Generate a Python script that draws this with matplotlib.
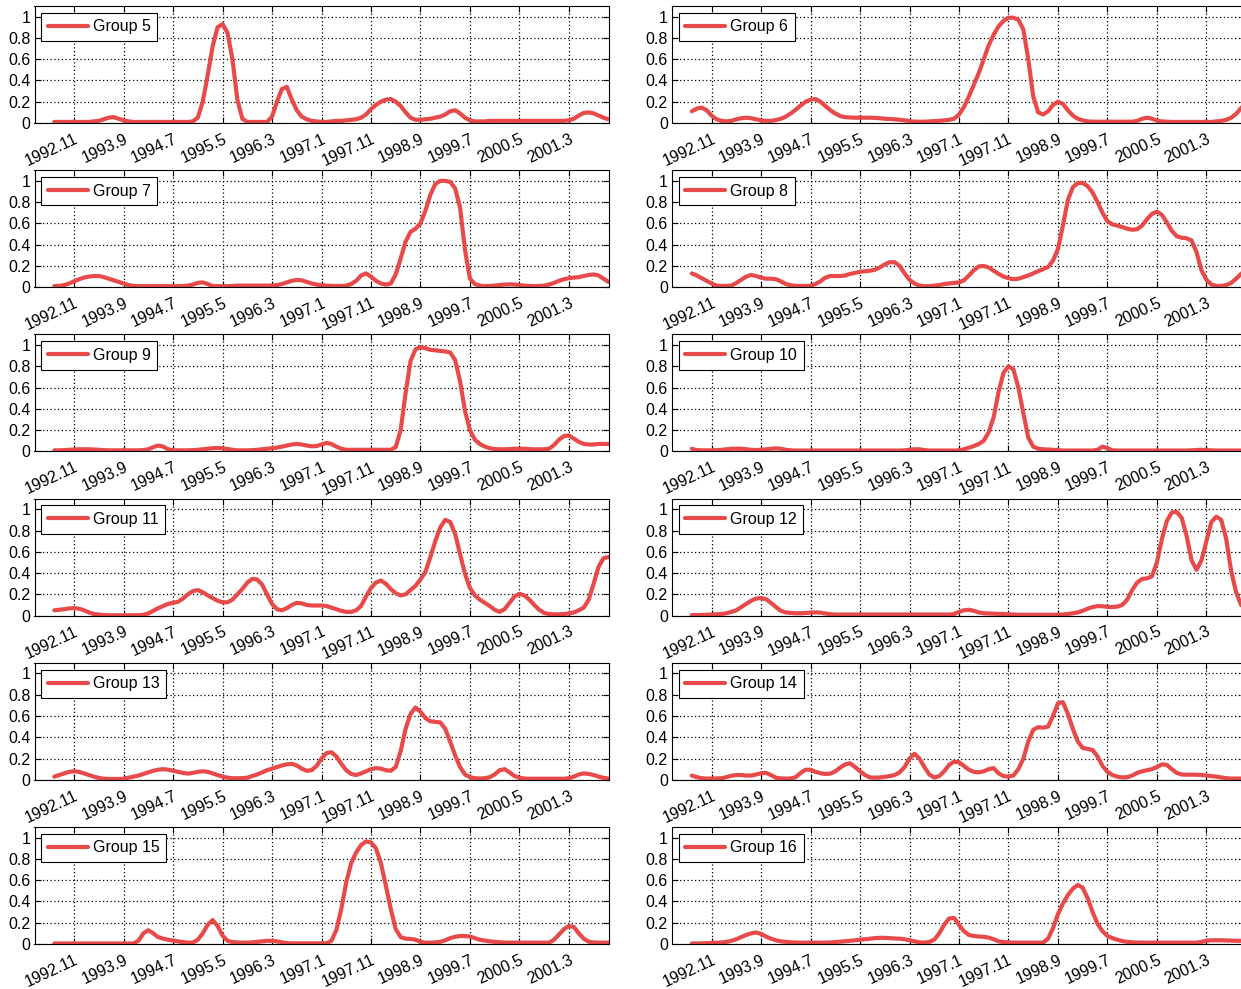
import numpy as np
import matplotlib
matplotlib.use('Agg')
import matplotlib.pyplot as plt

plt.rcParams['font.family'] = ['Liberation Sans', 'DejaVu Sans']

# months counted from 1992.11 (first sample is 1992.7, last 2001.11)
months = np.arange(-4, 109)
tick_months = [0, 10, 20, 30, 40, 50, 60, 70, 80, 90, 100]
tick_labels = ['1992.11', '1993.9', '1994.7', '1995.5', '1996.3', '1997.1',
               '1997.11', '1998.9', '1999.7', '2000.5', '2001.3']

group5 = [0.01, 0.01, 0.01, 0.01, 0.01, 0.01, 0.01, 0.01, 0.015, 0.02,
          0.035, 0.05, 0.055, 0.04, 0.025, 0.015, 0.01, 0.01, 0.01, 0.01,
          0.01, 0.01, 0.01, 0.01, 0.01, 0.01, 0.01, 0.01, 0.015, 0.05,
          0.2, 0.45, 0.72, 0.9, 0.93, 0.85, 0.6, 0.22, 0.04, 0.01,
          0.01, 0.01, 0.01, 0.01, 0.06, 0.2, 0.32, 0.34, 0.22, 0.12,
          0.06, 0.035, 0.02, 0.015, 0.01, 0.01, 0.015, 0.02, 0.02, 0.025,
          0.03, 0.035, 0.05, 0.08, 0.13, 0.17, 0.2, 0.22, 0.225, 0.2,
          0.16, 0.1, 0.05, 0.03, 0.03, 0.035, 0.04, 0.05, 0.06, 0.08,
          0.11, 0.12, 0.09, 0.05, 0.025, 0.015, 0.015, 0.015, 0.02, 0.02,
          0.02, 0.02, 0.02, 0.02, 0.02, 0.02, 0.02, 0.02, 0.02, 0.02,
          0.02, 0.02, 0.02, 0.02, 0.025, 0.04, 0.07, 0.095, 0.1, 0.09,
          0.07, 0.05, 0.035]

group6 = [0.11, 0.135, 0.145, 0.12, 0.07, 0.035, 0.02, 0.015, 0.02, 0.035,
          0.045, 0.05, 0.045, 0.035, 0.025, 0.02, 0.02, 0.028, 0.04, 0.06,
          0.09, 0.125, 0.165, 0.2, 0.22, 0.225, 0.2, 0.16, 0.12, 0.09,
          0.065, 0.055, 0.052, 0.05, 0.05, 0.05, 0.05, 0.048, 0.045, 0.04,
          0.038, 0.035, 0.03, 0.025, 0.018, 0.013, 0.012, 0.012, 0.015, 0.018,
          0.02, 0.025, 0.03, 0.04, 0.08, 0.15, 0.25, 0.36, 0.47, 0.6,
          0.73, 0.83, 0.91, 0.96, 0.99, 0.99, 0.97, 0.88, 0.6, 0.25,
          0.1, 0.08, 0.11, 0.17, 0.2, 0.18, 0.12, 0.07, 0.04, 0.025,
          0.015, 0.012, 0.012, 0.012, 0.012, 0.012, 0.012, 0.012, 0.012, 0.012,
          0.02, 0.04, 0.05, 0.04, 0.022, 0.015, 0.012, 0.01, 0.01, 0.01,
          0.01, 0.01, 0.01, 0.01, 0.01, 0.01, 0.015, 0.02, 0.03, 0.05,
          0.085, 0.14, 0.19]

group7 = [0.01, 0.012, 0.02, 0.035, 0.055, 0.075, 0.09, 0.1, 0.105, 0.105,
          0.095, 0.08, 0.065, 0.05, 0.035, 0.02, 0.012, 0.01, 0.01, 0.01,
          0.01, 0.01, 0.01, 0.01, 0.01, 0.01, 0.01, 0.015, 0.025, 0.04,
          0.045, 0.03, 0.012, 0.01, 0.01, 0.01, 0.012, 0.015, 0.015, 0.015,
          0.015, 0.015, 0.015, 0.015, 0.015, 0.02, 0.03, 0.045, 0.06, 0.068,
          0.065, 0.05, 0.035, 0.025, 0.02, 0.015, 0.012, 0.012, 0.012, 0.015,
          0.03, 0.06, 0.11, 0.13, 0.1, 0.06, 0.035, 0.025, 0.035, 0.12,
          0.27, 0.43, 0.52, 0.55, 0.6, 0.72, 0.87, 0.97, 1.0, 1.0,
          0.99, 0.93, 0.75, 0.35, 0.08, 0.03, 0.015, 0.01, 0.012, 0.015,
          0.02, 0.025, 0.027, 0.025, 0.02, 0.015, 0.012, 0.01, 0.012, 0.015,
          0.025, 0.04, 0.06, 0.075, 0.085, 0.09, 0.095, 0.105, 0.115, 0.12,
          0.11, 0.08, 0.05]

group8 = [0.13, 0.11, 0.085, 0.06, 0.035, 0.015, 0.012, 0.012, 0.015, 0.04,
          0.07, 0.1, 0.115, 0.105, 0.09, 0.08, 0.08, 0.075, 0.055, 0.03,
          0.018, 0.013, 0.012, 0.012, 0.013, 0.03, 0.055, 0.09, 0.105, 0.105,
          0.105, 0.11, 0.125, 0.135, 0.145, 0.15, 0.155, 0.165, 0.185, 0.215,
          0.235, 0.235, 0.2, 0.13, 0.07, 0.035, 0.015, 0.01, 0.01, 0.015,
          0.02, 0.03, 0.035, 0.04, 0.045, 0.065, 0.11, 0.16, 0.195, 0.2,
          0.185, 0.155, 0.125, 0.1, 0.085, 0.075, 0.08, 0.095, 0.11, 0.13,
          0.15, 0.17, 0.19, 0.25, 0.36, 0.58, 0.82, 0.94, 0.98, 0.98,
          0.95, 0.89, 0.8, 0.7, 0.62, 0.59, 0.58, 0.565, 0.55, 0.54,
          0.545, 0.58, 0.64, 0.69, 0.71, 0.68, 0.61, 0.53, 0.48, 0.465,
          0.46, 0.44, 0.33, 0.16, 0.07, 0.025, 0.012, 0.012, 0.02, 0.04,
          0.08, 0.125, 0.16]

group9 = [0.01, 0.01, 0.012, 0.015, 0.018, 0.02, 0.02, 0.02, 0.018, 0.015,
          0.012, 0.01, 0.01, 0.01, 0.01, 0.01, 0.01, 0.01, 0.012, 0.02,
          0.04, 0.055, 0.045, 0.02, 0.01, 0.01, 0.01, 0.01, 0.012, 0.015,
          0.02, 0.025, 0.03, 0.032, 0.03, 0.022, 0.015, 0.01, 0.01, 0.01,
          0.012, 0.015, 0.02, 0.025, 0.03, 0.035, 0.045, 0.055, 0.065, 0.07,
          0.065, 0.055, 0.048, 0.05, 0.065, 0.08, 0.07, 0.045, 0.025, 0.015,
          0.015, 0.015, 0.015, 0.015, 0.015, 0.015, 0.015, 0.015, 0.015, 0.04,
          0.2, 0.55, 0.85, 0.96, 0.98, 0.97, 0.955, 0.95, 0.945, 0.94,
          0.93, 0.86, 0.66, 0.38, 0.2, 0.11, 0.07, 0.045, 0.03, 0.022,
          0.02, 0.02, 0.022, 0.025, 0.025, 0.025, 0.022, 0.02, 0.02, 0.02,
          0.025, 0.06, 0.11, 0.145, 0.15, 0.12, 0.09, 0.07, 0.065, 0.065,
          0.07, 0.07, 0.07]

group10 = [0.025, 0.012, 0.01, 0.01, 0.01, 0.012, 0.015, 0.02, 0.025, 0.025,
           0.025, 0.02, 0.015, 0.013, 0.015, 0.02, 0.025, 0.028, 0.025, 0.015,
           0.01, 0.008, 0.008, 0.008, 0.008, 0.008, 0.008, 0.008, 0.008, 0.008,
           0.008, 0.008, 0.008, 0.008, 0.008, 0.008, 0.008, 0.008, 0.008, 0.008,
           0.008, 0.008, 0.008, 0.01, 0.015, 0.02, 0.02, 0.012, 0.008, 0.008,
           0.008, 0.008, 0.008, 0.008, 0.01, 0.02, 0.035, 0.05, 0.07, 0.1,
           0.18, 0.32, 0.56, 0.74, 0.8, 0.77, 0.6, 0.36, 0.13, 0.045,
           0.025, 0.02, 0.018, 0.015, 0.012, 0.008, 0.008, 0.008, 0.008, 0.008,
           0.008, 0.008, 0.015, 0.045, 0.03, 0.01, 0.008, 0.008, 0.008, 0.008,
           0.008, 0.008, 0.008, 0.008, 0.008, 0.008, 0.008, 0.008, 0.008, 0.008,
           0.008, 0.01, 0.013, 0.015, 0.012, 0.01, 0.008, 0.008, 0.008, 0.008,
           0.008, 0.008, 0.008]

group11 = [0.05, 0.055, 0.06, 0.068, 0.07, 0.065, 0.05, 0.03, 0.015, 0.01,
           0.005, 0.003, 0.003, 0.003, 0.003, 0.003, 0.003, 0.003, 0.008, 0.02,
           0.045, 0.07, 0.09, 0.11, 0.12, 0.13, 0.16, 0.2, 0.23, 0.24,
           0.22, 0.19, 0.165, 0.14, 0.125, 0.125, 0.15, 0.2, 0.25, 0.31,
           0.345, 0.34, 0.29, 0.2, 0.11, 0.06, 0.05, 0.07, 0.1, 0.12,
           0.115, 0.1, 0.095, 0.095, 0.095, 0.09, 0.075, 0.06, 0.045, 0.035,
           0.035, 0.05, 0.09, 0.18, 0.26, 0.31, 0.33, 0.3, 0.25, 0.21,
           0.19, 0.2, 0.24, 0.28, 0.34, 0.41, 0.55, 0.7, 0.83, 0.9,
           0.88, 0.77, 0.58, 0.39, 0.26, 0.19, 0.15, 0.12, 0.09, 0.055,
           0.035, 0.06, 0.12, 0.18, 0.205, 0.19, 0.15, 0.1, 0.055, 0.025,
           0.015, 0.012, 0.012, 0.015, 0.02, 0.03, 0.05, 0.075, 0.15, 0.3,
           0.46, 0.54, 0.55]

group12 = [0.005, 0.005, 0.006, 0.008, 0.01, 0.012, 0.015, 0.022, 0.035, 0.05,
           0.08, 0.11, 0.14, 0.16, 0.165, 0.155, 0.12, 0.08, 0.045, 0.03,
           0.025, 0.022, 0.022, 0.025, 0.028, 0.03, 0.028, 0.02, 0.013, 0.01,
           0.01, 0.01, 0.01, 0.01, 0.01, 0.01, 0.01, 0.01, 0.01, 0.01,
           0.01, 0.01, 0.01, 0.01, 0.01, 0.01, 0.01, 0.01, 0.01, 0.01,
           0.01, 0.01, 0.01, 0.015, 0.035, 0.05, 0.055, 0.045, 0.03, 0.022,
           0.02, 0.018, 0.016, 0.015, 0.013, 0.01, 0.008, 0.008, 0.008, 0.008,
           0.008, 0.008, 0.008, 0.008, 0.008, 0.01, 0.015, 0.022, 0.03, 0.045,
           0.065, 0.08, 0.09, 0.088, 0.082, 0.08, 0.085, 0.1, 0.15, 0.24,
           0.31, 0.345, 0.35, 0.37, 0.5, 0.72, 0.89, 0.97, 0.975, 0.92,
           0.75, 0.52, 0.43, 0.52, 0.7, 0.88, 0.93, 0.9, 0.72, 0.42,
           0.22, 0.1, 0.06]

group13 = [0.03, 0.045, 0.06, 0.075, 0.08, 0.075, 0.06, 0.045, 0.03, 0.018,
           0.01, 0.008, 0.008, 0.008, 0.01, 0.02, 0.03, 0.04, 0.055, 0.07,
           0.085, 0.095, 0.1, 0.095, 0.085, 0.075, 0.065, 0.058, 0.065, 0.075,
           0.08, 0.075, 0.06, 0.045, 0.03, 0.02, 0.015, 0.015, 0.015, 0.02,
           0.035, 0.05, 0.07, 0.09, 0.105, 0.12, 0.135, 0.145, 0.15, 0.135,
           0.105, 0.085, 0.09, 0.13, 0.2, 0.25, 0.26, 0.22, 0.15, 0.09,
           0.055, 0.045, 0.06, 0.08, 0.1, 0.11, 0.105, 0.09, 0.085, 0.12,
           0.27, 0.48, 0.62, 0.68, 0.64, 0.58, 0.55, 0.545, 0.54, 0.48,
           0.36, 0.23, 0.12, 0.05, 0.025, 0.015, 0.012, 0.015, 0.025, 0.05,
           0.09, 0.1, 0.07, 0.035, 0.02, 0.012, 0.01, 0.01, 0.01, 0.01,
           0.01, 0.01, 0.01, 0.01, 0.015, 0.03, 0.05, 0.06, 0.055, 0.045,
           0.03, 0.018, 0.012]

group14 = [0.04, 0.025, 0.015, 0.012, 0.012, 0.013, 0.015, 0.025, 0.038, 0.045,
           0.045, 0.04, 0.04, 0.05, 0.062, 0.065, 0.045, 0.02, 0.013, 0.012,
           0.012, 0.025, 0.065, 0.095, 0.095, 0.075, 0.062, 0.055, 0.058, 0.08,
           0.115, 0.145, 0.155, 0.12, 0.08, 0.045, 0.022, 0.02, 0.022, 0.028,
           0.035, 0.045, 0.07, 0.12, 0.2, 0.245, 0.2, 0.12, 0.05, 0.022,
           0.035, 0.08, 0.14, 0.17, 0.165, 0.13, 0.095, 0.075, 0.07, 0.08,
           0.1, 0.11, 0.06, 0.035, 0.03, 0.04, 0.1, 0.2, 0.36, 0.47,
           0.495, 0.49, 0.5, 0.6, 0.72, 0.73, 0.62, 0.48, 0.36, 0.3,
           0.29, 0.28, 0.22, 0.13, 0.075, 0.045, 0.03, 0.022, 0.025, 0.04,
           0.065, 0.08, 0.09, 0.1, 0.12, 0.145, 0.14, 0.1, 0.065, 0.05,
           0.048, 0.048, 0.048, 0.045, 0.04, 0.035, 0.03, 0.022, 0.015, 0.012,
           0.012, 0.012, 0.012]

group15 = [0.005, 0.005, 0.005, 0.005, 0.005, 0.005, 0.005, 0.005, 0.005, 0.005,
           0.005, 0.005, 0.005, 0.005, 0.005, 0.005, 0.005, 0.03, 0.1, 0.13,
           0.1, 0.065, 0.05, 0.04, 0.032, 0.025, 0.018, 0.013, 0.013, 0.04,
           0.1, 0.18, 0.225, 0.17, 0.08, 0.03, 0.018, 0.015, 0.013, 0.013,
           0.015, 0.02, 0.025, 0.03, 0.03, 0.025, 0.015, 0.008, 0.006, 0.006,
           0.006, 0.006, 0.006, 0.006, 0.006, 0.006, 0.03, 0.13, 0.33, 0.58,
           0.76, 0.86, 0.93, 0.965, 0.955, 0.9, 0.76, 0.55, 0.33, 0.14,
           0.065, 0.05, 0.048, 0.04, 0.02, 0.013, 0.013, 0.015, 0.02, 0.035,
           0.055, 0.068, 0.075, 0.075, 0.07, 0.055, 0.04, 0.032, 0.025, 0.02,
           0.016, 0.014, 0.013, 0.013, 0.013, 0.013, 0.013, 0.013, 0.013, 0.013,
           0.013, 0.04, 0.09, 0.14, 0.17, 0.16, 0.1, 0.05, 0.022, 0.015,
           0.013, 0.013, 0.013]

group16 = [0.005, 0.005, 0.006, 0.008, 0.01, 0.012, 0.014, 0.02, 0.03, 0.045,
           0.065, 0.085, 0.1, 0.108, 0.095, 0.07, 0.05, 0.035, 0.025, 0.02,
           0.016, 0.014, 0.013, 0.013, 0.013, 0.013, 0.013, 0.013, 0.015, 0.018,
           0.022, 0.026, 0.03, 0.035, 0.04, 0.045, 0.05, 0.055, 0.058, 0.058,
           0.055, 0.052, 0.05, 0.045, 0.035, 0.025, 0.016, 0.013, 0.02, 0.04,
           0.1, 0.18, 0.24, 0.245, 0.18, 0.12, 0.085, 0.075, 0.07, 0.068,
           0.06, 0.045, 0.025, 0.018, 0.015, 0.013, 0.013, 0.013, 0.013, 0.013,
           0.013, 0.013, 0.05, 0.15, 0.28, 0.38, 0.46, 0.52, 0.555, 0.53,
           0.43, 0.3, 0.19, 0.12, 0.075, 0.055, 0.04, 0.028, 0.02, 0.016,
           0.014, 0.013, 0.013, 0.013, 0.013, 0.013, 0.013, 0.013, 0.013, 0.013,
           0.013, 0.013, 0.013, 0.02, 0.03, 0.035, 0.035, 0.035, 0.033, 0.032,
           0.03, 0.03, 0.03]

groups = [('Group 5', group5), ('Group 6', group6),
          ('Group 7', group7), ('Group 8', group8),
          ('Group 9', group9), ('Group 10', group10),
          ('Group 11', group11), ('Group 12', group12),
          ('Group 13', group13), ('Group 14', group14),
          ('Group 15', group15), ('Group 16', group16)]

W, H = 1241, 989
fig = plt.figure(figsize=(W / 100, H / 100), dpi=100)

# panel geometry in pixels; the right column runs a little past the figure edge
col_left = [34.5, 672.0]
row_top = [6.0, 170.2, 334.4, 498.6, 662.8, 827.0]
ax_w, ax_h = 574.0, 117.0

line_color = '#E84A4A'
fs = 11.5

for i, (name, vals) in enumerate(groups):
    r, c = divmod(i, 2)
    ax = fig.add_axes([col_left[c] / W, 1 - (row_top[r] + ax_h) / H,
                       ax_w / W, ax_h / H])
    ax.plot(months, vals, color=line_color, lw=3, label=name,
            solid_joinstyle='round', solid_capstyle='round')
    ax.set_xlim(-8, 108)
    ax.set_ylim(0, 1.1)
    ax.set_xticks(tick_months)
    ax.set_xticklabels(tick_labels, rotation=25, ha='right', va='top',
                       rotation_mode='anchor')
    ax.set_yticks([0, 0.2, 0.4, 0.6, 0.8, 1])
    ax.set_yticklabels(['0', '0.2', '0.4', '0.6', '0.8', '1'])
    ax.grid(True, color='k', linestyle=(0, (1, 2)), lw=0.9)
    ax.set_axisbelow(True)
    ax.tick_params(direction='in', top=True, right=True, length=4,
                   width=0.8, labelsize=fs, colors='k')
    ax.tick_params(axis='y', pad=3)
    ax.tick_params(axis='x', pad=6)
    for sp in ax.spines.values():
        sp.set_linewidth(0.8)
        sp.set_color('k')
    leg = ax.legend(loc='upper left', fontsize=fs, handlelength=2.5,
                    handletextpad=0.3, borderpad=0.42, borderaxespad=0.42,
                    fancybox=False, framealpha=1, edgecolor='k')
    leg.get_frame().set_linewidth(0.8)

fig.savefig('out.png', dpi=100)
